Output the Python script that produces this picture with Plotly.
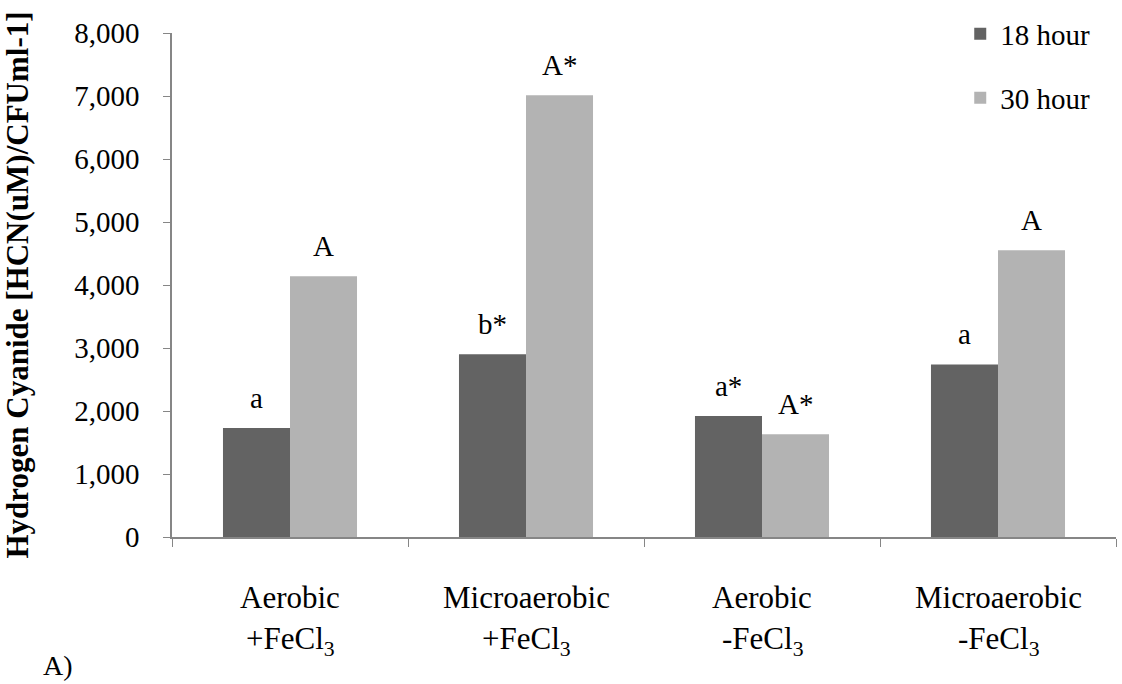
import plotly.graph_objects as go

# Treatment groups (two-line labels) and series values
line1 = ["Aerobic", "Microaerobic", "Aerobic", "Microaerobic"]
line2 = ["+FeCl<sub>3</sub>", "+FeCl<sub>3</sub>", "-FeCl<sub>3</sub>", "-FeCl<sub>3</sub>"]
categories = ["Aerobic +FeCl3", "Microaerobic +FeCl3", "Aerobic -FeCl3", "Microaerobic -FeCl3"]
hcn_18h = [1730, 2900, 1920, 2740]
hcn_30h = [4140, 7010, 1630, 4550]
letters_18h = ["a", "b*", "a*", "a"]
letters_30h = ["A", "A*", "A*", "A"]
y_ticks = [0, 1000, 2000, 3000, 4000, 5000, 6000, 7000, 8000]

FONT = "Times New Roman, Liberation Serif, serif"
AXIS_GREY = "#868686"
DARK = "#636363"
LIGHT = "#b3b3b3"
BARGAP = 0.432

fig = go.Figure()
fig.add_trace(go.Bar(x=categories, y=hcn_18h, name="18 hour", marker_color=DARK,
                     marker_line_width=0, legend="legend", showlegend=True))
fig.add_trace(go.Bar(x=categories, y=hcn_30h, name="30 hour", marker_color=LIGHT,
                     marker_line_width=0, legend="legend2", showlegend=True))

annotations = []
half = (1 - BARGAP) / 4  # offset from category centre to each bar centre
for i in range(len(categories)):
    for xpos, val, lab in ((i - half, hcn_18h[i], letters_18h[i]),
                           (i + half, hcn_30h[i], letters_30h[i])):
        annotations.append(dict(x=xpos, y=val, xref="x", yref="y", text=lab,
                                showarrow=False, yanchor="bottom", yshift=12,
                                font=dict(family=FONT, size=29, color="black")))
    annotations.append(dict(x=i, y=0, xref="x", yref="paper", text=line1[i],
                            showarrow=False, yanchor="middle", yshift=-60,
                            font=dict(family=FONT, size=31, color="black")))
    annotations.append(dict(x=i, y=0, xref="x", yref="paper", text=line2[i],
                            showarrow=False, yanchor="middle", yshift=-104,
                            font=dict(family=FONT, size=31, color="black")))

annotations.append(dict(x=-0.1388, y=0, xref="paper", yref="paper", text="A)",
                        showarrow=False, xanchor="left", yanchor="middle", yshift=-128,
                        font=dict(family=FONT, size=28, color="black")))

legend_style = dict(xanchor="left", yanchor="middle", bgcolor="rgba(0,0,0,0)",
                    font=dict(family=FONT, size=29, color="black"))

fig.update_layout(
    width=1122, height=684,
    margin=dict(l=172, r=6, t=33, b=147),
    paper_bgcolor="white", plot_bgcolor="white",
    barmode="group", bargap=BARGAP, bargroupgap=0,
    font=dict(family=FONT, size=29, color="black"),
    showlegend=True,
    legend=dict(x=0.835, y=0.998, **legend_style),
    legend2=dict(x=0.835, y=0.871, **legend_style),
    annotations=annotations,
    xaxis=dict(showticklabels=False, tickson="boundaries", ticks="outside",
               ticklen=8, tickcolor=AXIS_GREY, showline=True, linecolor=AXIS_GREY,
               linewidth=1.5, showgrid=False, zeroline=False),
    yaxis=dict(range=[0, 8000], tickvals=y_ticks, tickformat=",d",
               ticks="outside", ticklen=7, tickcolor=AXIS_GREY,
               showline=True, linecolor=AXIS_GREY, linewidth=1.5,
               showgrid=False, zeroline=False, ticklabelstandoff=18,
               tickfont=dict(family=FONT, size=29, color="black"),
               title=dict(text="<b>Hydrogen Cyanide [HCN(uM)/CFUml-1]</b>",
                          font=dict(family=FONT, size=31, color="black"),
                          standoff=38)),
)

fig.write_html("out.html")
